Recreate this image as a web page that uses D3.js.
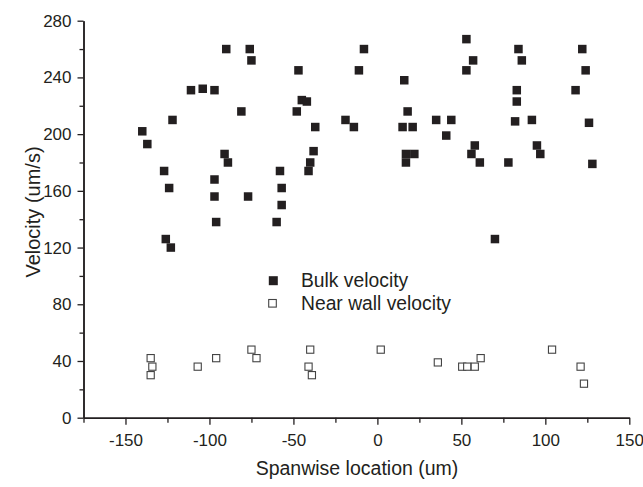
<!DOCTYPE html>
<html><head><meta charset="utf-8">
<script src="https://cdn.jsdelivr.net/npm/d3@7"></script>
<style>body{margin:0;background:#fff}svg{display:block}text{font-family:"Liberation Sans",Arial,sans-serif;fill:#231f20}</style>
</head><body><svg id="c" width="643" height="487"></svg>
<script>
const bulkX=[-140,-137,-127,-124,-126,-123,-122,-111,-104,-97,-97,-97,-96,-91,-89,-90,-81,-77,-76,-75,-58,-57,-57,-60,-48,-47,-45,-42,-37,-38,-40,-41,-19,-14,-11,-8,16,18,15,21,17,22,17,35,44,41,53,57,53,58,56,61,70,78,84,86,83,83,82,92,95,97,122,124,118,126,128];
const bulkY=[202,193,174,162,126,120,210,231,232,231,168,156,138,186,180,260,216,156,260,252,174,162,150,138,216,245,224,223,205,188,180,174,210,205,245,260,238,216,205,205,186,186,180,210,210,199,267,252,245,192,186,180,126,180,260,252,231,223,209,210,192,186,260,245,231,208,179];
const wallX=[-135,-134,-135,-107,-96,-75,-72,-40,-41,-39,2,36,50.5,53.5,58,61.5,104,121,123];
const wallY=[42,36,30,36,42,48,42,48,36,30,48,39,36,36,36,42,48,36,24];
const xMajor=[-150,-100,-50,0,50,100,150];
const xMinor=[-175,-125,-75,-25,25,75,125];
const yMajor=[0,40,80,120,160,200,240,280];
const yMinor=[20,60,100,140,180,220,260];
const seriesNames=["Bulk velocity","Near wall velocity"];

const svg=d3.select("#c");
const ink="#231f20";
const x=d3.scaleLinear().domain([-175,150]).range([83.5,629.3]);
const y=d3.scaleLinear().domain([0,280]).range([417.7,20.7]);

function axisStyle(g){g.select(".domain").attr("stroke",ink).attr("stroke-width",1.5);g.selectAll(".tick line").attr("stroke",ink).attr("stroke-width",1.3);}
const gx=svg.append("g").attr("transform",`translate(0,${y(0)})`);
gx.append("g").call(d3.axisBottom(x).tickValues(xMinor).tickSize(5).tickFormat("").tickSizeOuter(0)).call(axisStyle);
gx.append("g").call(d3.axisBottom(x).tickValues(xMajor).tickSize(7).tickPadding(9).tickSizeOuter(0).tickFormat(d=>d)).call(axisStyle)
  .selectAll("text").attr("font-size",17).attr("fill",ink);
const gy=svg.append("g").attr("transform",`translate(${x(-175)},0)`);
gy.append("g").call(d3.axisLeft(y).tickValues(yMinor).tickSize(4).tickFormat("").tickSizeOuter(0)).call(axisStyle);
gy.append("g").call(d3.axisLeft(y).tickValues(yMajor).tickSize(6).tickPadding(6).tickSizeOuter(0).tickFormat(d=>d)).call(axisStyle)
  .selectAll("text").attr("font-size",17).attr("fill",ink);
svg.selectAll(".tick text").style("font-family",'"Liberation Sans",Arial,sans-serif');

svg.append("text").attr("x",357).attr("y",475).attr("text-anchor","middle").attr("font-size",19.5).text("Spanwise location (um)");
svg.append("text").attr("transform","translate(40,212) rotate(-90)").attr("text-anchor","middle").attr("font-size",20).text("Velocity (um/s)");

const s1=8.5, s2=7.2;
svg.append("g").selectAll("rect").data(bulkX.map((d,i)=>[d,bulkY[i]])).join("rect")
  .attr("x",d=>x(d[0])-s1/2).attr("y",d=>y(d[1])-s1/2).attr("width",s1).attr("height",s1).attr("fill",ink);
svg.append("g").selectAll("rect").data(wallX.map((d,i)=>[d,wallY[i]])).join("rect")
  .attr("x",d=>x(d[0])-s2/2).attr("y",d=>y(d[1])-s2/2).attr("width",s2).attr("height",s2).attr("fill","#fff").attr("stroke","#444").attr("stroke-width",1.1);

const lg=svg.append("g");
lg.append("rect").attr("x",273.3-4.5).attr("y",280.7-4.5).attr("width",9).attr("height",9).attr("fill",ink);
lg.append("rect").attr("x",272.5-3.8).attr("y",303.3-3.8).attr("width",7.6).attr("height",7.6).attr("fill","#fff").attr("stroke","#444").attr("stroke-width",1.1);
lg.append("text").attr("x",301).attr("y",287).attr("font-size",19.3).text(seriesNames[0]);
lg.append("text").attr("x",301).attr("y",310).attr("font-size",19.3).text(seriesNames[1]);
</script></body></html>
